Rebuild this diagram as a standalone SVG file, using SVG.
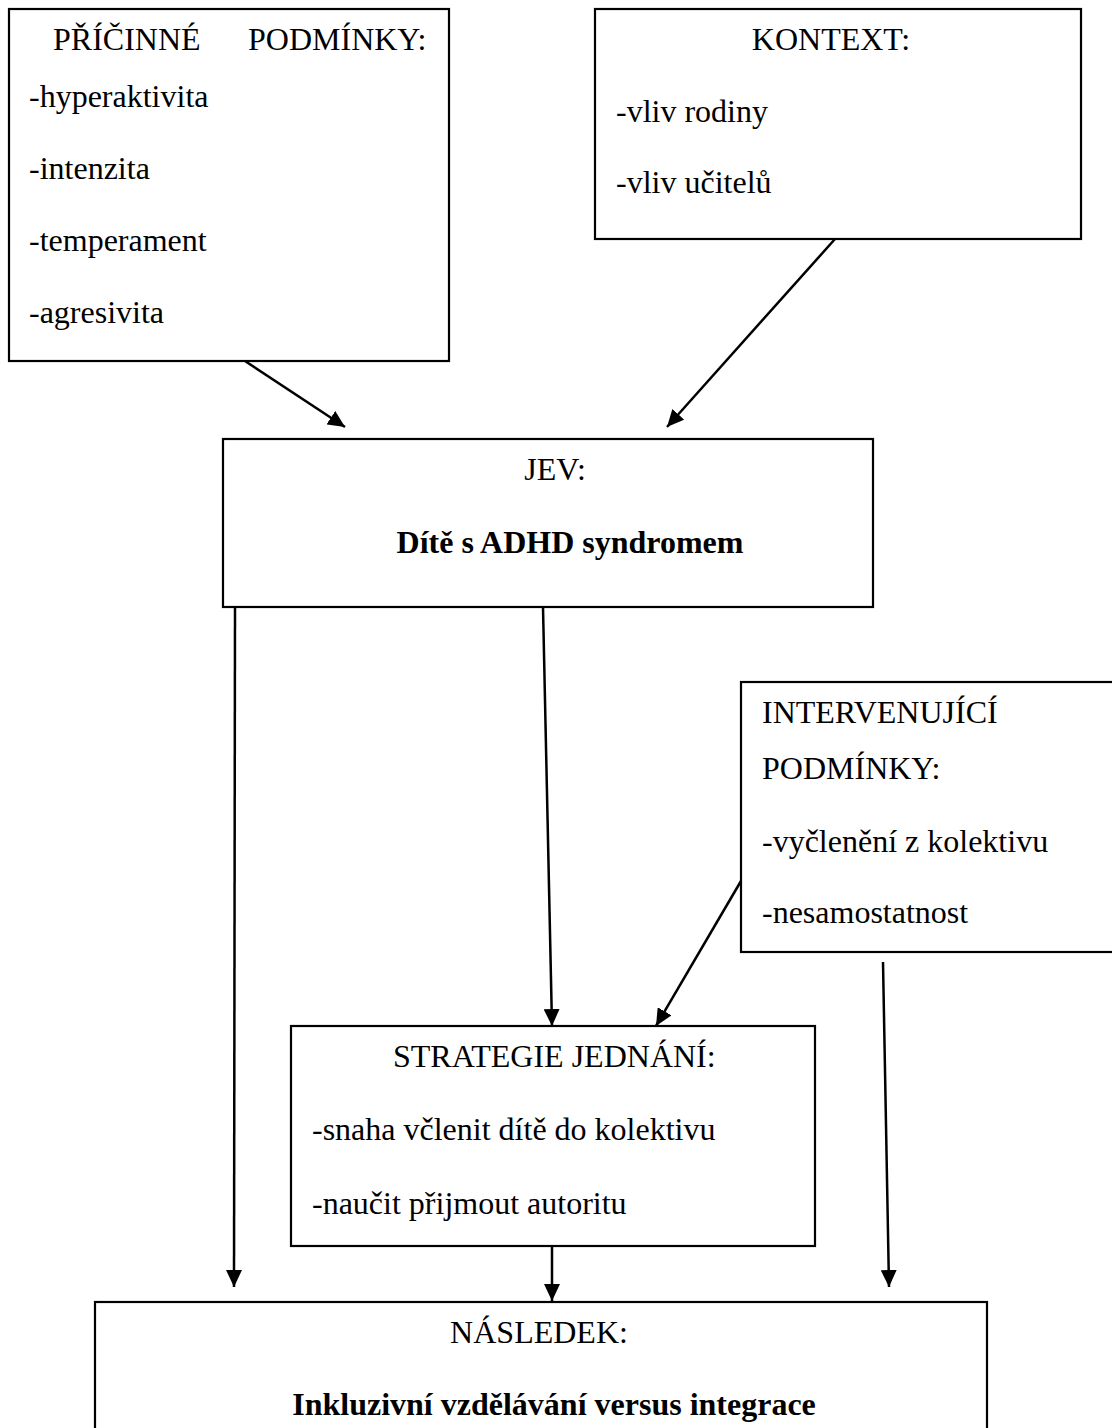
<svg xmlns="http://www.w3.org/2000/svg" width="1112" height="1428" viewBox="0 0 1112 1428">
<style>
.box{fill:#fff;stroke:#000;stroke-width:2.2}
.t{font-family:"Liberation Serif","Times New Roman",serif;font-size:32px;fill:#000}
.b{font-weight:bold}
.c{fill:none;stroke:#000;stroke-width:2.5;marker-end:url(#ah)}
</style>
<defs>
<marker id="ah" markerUnits="userSpaceOnUse" markerWidth="18" markerHeight="16" refX="17" refY="8" orient="auto">
<path d="M0,0 L17,8 L0,16 z" fill="#000"/>
</marker>
</defs>
<rect width="1112" height="1428" fill="#fff"/>
<g id="connectors">
<line class="c" x1="245" y1="361" x2="345" y2="427"/>
<line class="c" x1="835" y1="239" x2="667" y2="427"/>
<line class="c" x1="235" y1="607" x2="234" y2="1287"/>
<line class="c" x1="543" y1="607" x2="552" y2="1026"/>
<line class="c" x1="741" y1="881" x2="656" y2="1026"/>
<line class="c" x1="883" y1="962" x2="889" y2="1287"/>
<line class="c" x1="552" y1="1246" x2="552" y2="1301"/>
</g>
<g id="pricinne">
<rect class="box" x="9" y="9" width="440" height="352"/>
<text class="t" y="50"><tspan x="53">PŘÍČINNÉ</tspan><tspan x="248">PODMÍNKY:</tspan></text>
<text class="t" x="29" y="107">-hyperaktivita</text>
<text class="t" x="29" y="179">-intenzita</text>
<text class="t" x="29" y="251">-temperament</text>
<text class="t" x="29" y="323">-agresivita</text>
</g>
<g id="kontext">
<rect class="box" x="595" y="9" width="486" height="230"/>
<text class="t" x="831" y="50" text-anchor="middle">KONTEXT:</text>
<text class="t" x="616" y="122">-vliv rodiny</text>
<text class="t" x="616" y="193">-vliv učitelů</text>
</g>
<g id="jev">
<rect class="box" x="223" y="439" width="650" height="168"/>
<text class="t" x="555" y="480" text-anchor="middle">JEV:</text>
<text class="t b" x="570" y="553" text-anchor="middle">Dítě s ADHD syndromem</text>
</g>
<g id="intervenujici">
<rect class="box" x="741" y="682" width="400" height="270"/>
<text class="t" x="762" y="723">INTERVENUJÍCÍ</text>
<text class="t" x="762" y="779">PODMÍNKY:</text>
<text class="t" x="762" y="852">-vyčlenění z kolektivu</text>
<text class="t" x="762" y="923">-nesamostatnost</text>
</g>
<g id="strategie">
<rect class="box" x="291" y="1026" width="524" height="220"/>
<text class="t" x="393" y="1067">STRATEGIE JEDNÁNÍ:</text>
<text class="t" x="312" y="1140">-snaha včlenit dítě do kolektivu</text>
<text class="t" x="312" y="1214">-naučit přijmout autoritu</text>
</g>
<g id="nasledek">
<rect class="box" x="95" y="1302" width="892" height="140"/>
<text class="t" x="539" y="1343" text-anchor="middle">NÁSLEDEK:</text>
<text class="t b" x="554" y="1415" text-anchor="middle">Inkluzivní vzdělávání versus integrace</text>
</g>
</svg>
